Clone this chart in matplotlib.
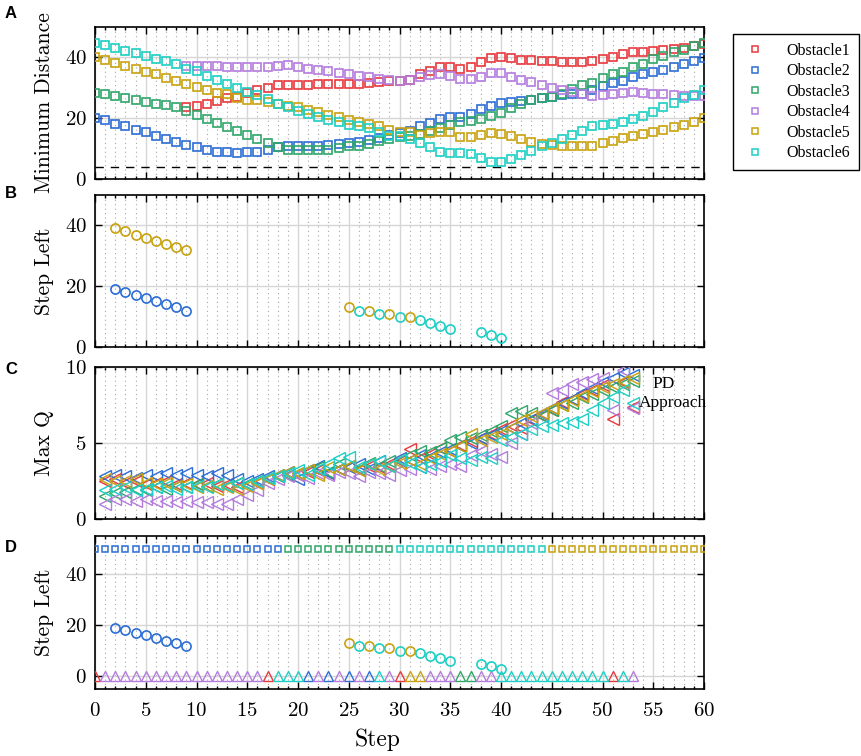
import numpy as np
import matplotlib
matplotlib.use("Agg")
import matplotlib.pyplot as plt
from matplotlib.ticker import MultipleLocator, FixedLocator
from matplotlib.lines import Line2D

plt.rcParams['font.family'] = ['cmr10', 'DejaVu Serif']
plt.rcParams['axes.formatter.use_mathtext'] = True
plt.rcParams['mathtext.fontset'] = 'cm'

# ---------------- data ----------------
obstacle_names = ['Obstacle1', 'Obstacle2', 'Obstacle3', 'Obstacle4', 'Obstacle5', 'Obstacle6']
obstacle_colors = ['#E8383D', '#2C6ED5', '#2FA66A', '#B47CDD', '#C9A20F', '#1DCFC4']

# Panel A: minimum distance per step
steps_all = list(range(0, 61))
steps_from9 = list(range(9, 61))
dist_obs1 = [23.8, 24.1, 24.8, 25.6, 26.7, 27.0, 28.3, 29.2, 30.0, 31.0,
             31.0, 31.0, 31.0, 31.1, 31.1, 31.3, 31.3, 31.3, 31.5, 31.9,
             32.1, 32.4, 32.6, 34.4, 35.4, 36.7, 37.0, 36.2, 37.0, 38.4,
             39.7, 40.0, 39.7, 39.2, 39.1, 38.9, 38.7, 38.6, 38.6, 38.6,
             38.7, 39.5, 40.2, 41.1, 41.8, 41.9, 42.2, 42.4, 42.7, 43.2,
             43.8, 44.5]
dist_obs2 = [20.0, 19.4, 18.1, 17.3, 16.2, 15.3, 14.3, 13.3, 12.2, 11.3,
             10.6, 9.7, 9.0, 8.8, 8.6, 8.8, 9.0, 9.7, 10.6, 10.8,
             10.8, 10.8, 11.0, 11.3, 11.6, 11.9, 12.2, 12.7, 13.5, 14.6,
             15.1, 15.7, 17.3, 18.4, 19.8, 20.5, 20.5, 21.4, 22.9, 24.0,
             25.1, 25.2, 25.6, 25.9, 26.5, 27.0, 27.6, 27.9, 28.1, 29.4,
             30.5, 31.6, 32.4, 33.5, 34.4, 35.1, 35.9, 37.0, 37.8, 38.9,
             39.8]
dist_obs3 = [28.4, 27.9, 27.2, 26.5, 25.9, 25.4, 24.8, 24.2, 23.8, 22.4,
             21.1, 19.8, 18.4, 17.0, 15.7, 14.6, 13.1, 11.9, 10.5, 9.7,
             9.4, 9.4, 9.5, 9.7, 10.2, 10.8, 11.0, 11.5, 12.4, 13.1,
             13.8, 14.2, 14.9, 15.7, 16.9, 17.6, 18.6, 19.2, 19.9, 20.7,
             21.8, 23.2, 24.6, 26.1, 26.8, 27.1, 27.9, 29.6, 31.0, 31.7,
             33.3, 34.4, 35.3, 36.8, 37.8, 39.5, 40.6, 41.9, 42.5, 43.6,
             44.7]
dist_obs4 = [37.1, 37.1, 37.1, 37.1, 37.0, 36.7, 36.7, 36.8, 37.0, 37.1,
             37.5, 36.7, 36.2, 35.7, 35.4, 34.8, 34.4, 33.8, 33.5, 33.0,
             32.7, 32.4, 32.6, 33.5, 34.2, 34.4, 34.0, 33.0, 33.0, 33.7,
             34.8, 34.8, 33.7, 32.7, 31.9, 31.0, 30.0, 29.4, 28.6, 28.1,
             27.2, 27.6, 27.9, 28.3, 28.6, 28.3, 28.1, 27.8, 27.6, 27.3,
             27.3, 27.2]
dist_obs5 = [40.0, 39.2, 38.1, 37.3, 36.2, 35.3, 34.4, 33.3, 32.2, 31.3,
             30.3, 29.4, 28.4, 27.8, 26.8, 26.1, 25.9, 25.4, 24.8, 24.0,
             23.6, 22.7, 21.9, 21.1, 20.3, 19.4, 18.9, 18.1, 17.3, 16.2,
             15.3, 15.3, 14.6, 15.1, 15.3, 15.4, 13.8, 13.8, 14.6, 15.1,
             14.9, 14.0, 13.0, 12.1, 11.5, 11.1, 10.8, 10.8, 10.8, 10.8,
             11.7, 12.4, 13.5, 14.3, 14.8, 15.3, 16.2, 17.0, 17.8, 18.9,
             20.0]
dist_obs6 = [44.7, 44.0, 43.0, 42.2, 41.3, 40.4, 39.6, 38.7, 37.8, 36.2,
             35.4, 33.9, 32.6, 31.3, 29.9, 28.6, 27.6, 26.2, 24.6, 23.6,
             22.5, 21.4, 20.5, 19.4, 18.6, 17.7, 17.5, 16.7, 15.3, 14.2,
             14.0, 13.1, 11.9, 10.5, 9.0, 8.6, 8.6, 8.1, 6.8, 5.6,
             5.6, 6.5, 7.9, 9.2, 10.8, 11.7, 13.2, 14.6, 15.7, 17.3,
             17.6, 18.2, 18.9, 19.6, 20.8, 22.2, 23.8, 25.1, 26.5, 27.6,
             29.2]
safe_distance = 4

# Panel B / D: step left (circles)
left_obs2_steps = [2, 3, 4, 5, 6, 7, 8, 9]
left_obs2_values = [19, 18, 17, 16, 15, 14, 13, 12]
left_obs5_early_steps = [2, 3, 4, 5, 6, 7, 8, 9]
left_obs5_early_values = [39, 38, 37, 36, 35, 34, 33, 32]
left_obs5_steps = [25, 27, 29, 31]
left_obs5_values = [13, 12, 11, 10]
left_obs6_steps = [26, 28, 30, 32, 33, 34, 35, 38, 39, 40]
left_obs6_values = [12, 11, 10, 9, 8, 7, 6, 5, 4, 3]

# Panel C: max Q (steps 1..53)
q_steps = list(range(1, 54))
q_obs1 = [2.5, 2.6, 2.4, 2.5, 2.3, 2.4, 2.5, 2.3, 2.4, 2.3,
          2.4, 2.2, 2.3, 2.1, 2.3, 2.4, 2.6, 2.8, 3.0, 2.9,
          3.1, 3.2, 3.0, 3.3, 3.4, 3.2, 3.5, 3.4, 3.6, 3.8,
          4.6, 4.0, 4.3, 4.7, 4.5, 4.9, 5.1, 5.3, 5.6, 5.9,
          6.2, 6.0, 6.5, 6.8, 7.2, 7.7, 7.9, 8.2, 8.5, 8.8,
          6.6, 9.0, 7.4]
q_obs2 = [2.8, 2.9, 2.8, 2.7, 2.9, 2.8, 3.0, 2.9, 3.0, 2.9,
          2.8, 3.0, 2.9, 2.6, 2.5, 2.6, 2.8, 2.9, 3.1, 2.6,
          3.2, 3.5, 3.0, 3.3, 3.4, 3.6, 3.3, 3.8, 3.5, 4.0,
          3.9, 4.2, 4.1, 4.4, 4.6, 4.8, 5.0, 5.3, 5.5, 5.8,
          6.0, 6.3, 6.6, 6.9, 7.3, 7.6, 7.9, 8.3, 8.6, 9.0,
          9.3, 9.6, 9.5]
q_obs3 = [1.5, 1.7, 1.8, 2.0, 1.9, 2.1, 2.0, 2.2, 2.1, 2.3,
          2.2, 2.3, 2.2, 2.4, 2.3, 2.5, 2.7, 2.8, 2.9, 3.0,
          3.2, 3.4, 3.1, 3.6, 3.5, 3.3, 3.7, 3.5, 3.8, 3.9,
          4.2, 4.5, 4.4, 4.7, 5.2, 5.4, 5.3, 5.5, 5.8, 6.1,
          7.0, 7.1, 7.0, 6.8, 7.2, 7.5, 7.6, 8.0, 8.2, 8.5,
          8.7, 8.9, 9.1]
q_obs4 = [1.0, 1.3, 1.3, 1.2, 1.3, 1.2, 1.2, 1.1, 1.2, 1.1,
          1.1, 1.0, 1.0, 1.3, 1.6, 1.9, 2.4, 2.6, 2.8, 2.9,
          2.7, 3.0, 2.9, 3.1, 3.0, 2.8, 3.1, 3.0, 2.9, 3.2,
          3.3, 3.4, 3.3, 3.5, 3.6, 3.5, 4.2, 4.5, 4.3, 4.1,
          5.0, 5.6, 6.3, 7.0, 8.3, 8.5, 8.9, 9.0, 9.2, 9.3,
          7.2, 9.8, 7.3]
q_obs5 = [2.6, 2.5, 2.5, 2.6, 2.4, 2.3, 2.4, 2.2, 2.3, 2.1,
          2.2, 2.0, 2.1, 2.0, 2.2, 2.4, 2.6, 2.9, 3.1, 3.0,
          3.2, 2.9, 3.4, 3.3, 3.5, 3.2, 3.6, 3.3, 3.5, 3.7,
          3.9, 3.6, 4.0, 4.3, 4.5, 4.8, 5.6, 5.2, 5.4, 5.6,
          6.0, 6.5, 6.8, 7.0, 7.3, 7.5, 7.8, 8.1, 8.4, 8.7,
          8.9, 9.1, 9.3]
q_obs6 = [1.9, 2.0, 2.1, 1.9, 2.0, 2.1, 2.2, 2.0, 2.1, 2.2,
          2.1, 2.3, 2.2, 2.4, 2.3, 2.5, 2.7, 2.8, 3.0, 3.2,
          2.9, 3.3, 3.6, 4.0, 4.1, 3.4, 3.6, 3.8, 3.5, 3.9,
          3.7, 3.4, 3.6, 3.8, 4.2, 4.0, 3.9, 4.1, 4.0, 5.2,
          5.4, 5.6, 5.9, 6.1, 6.2, 6.3, 6.4, 6.6, 7.2, 7.6,
          8.0, 8.5, 7.6]

# Panel D: target obstacle (squares at 50) and approach obstacle (triangles at 0)
target_value = 50
target_obstacle = [2] * 19 + [3] * 11 + [6] * 15 + [5] * 16          # steps 0..60
approach_value = 0
approach_obstacle = ([1] + [4] * 16 + [1] + [6, 6, 6] + [2, 4, 2, 4, 2, 4, 2] +
                     [6, 4, 1, 5, 5, 4, 4, 4, 3, 3, 4, 4] + [6] * 11 + [1, 6, 4])  # steps 0..53

# ---------------- figure ----------------
W, H = 861, 756
fig = plt.figure(figsize=(W / 100, H / 100), dpi=100)

def rect(top, bottom, left=95, right=704):
    return [left / W, 1 - bottom / H, (right - left) / W, (bottom - top) / H]

ax_a = fig.add_axes(rect(27, 179))
ax_b = fig.add_axes(rect(195, 347))
ax_c = fig.add_axes(rect(367, 519))
ax_d = fig.add_axes(rect(536, 689))

def style(ax, ylim, yticks, ylabel, show_x=False):
    ax.set_xlim(0, 60)
    ax.set_ylim(*ylim)
    ax.xaxis.set_major_locator(MultipleLocator(5))
    ax.xaxis.set_minor_locator(MultipleLocator(1))
    ax.yaxis.set_major_locator(FixedLocator(yticks))
    ax.set_axisbelow(True)
    ax.grid(True, which='major', color='#d6d6d6', lw=1.0, ls='-')
    ax.xaxis.grid(True, which='minor', color='#a8a8a8', lw=0.8, ls=(0, (1, 3)))
    ax.tick_params(which='both', direction='in', top=True, right=True,
                   labelsize=15, width=1.0, colors='black')
    ax.tick_params(which='major', length=5)
    ax.tick_params(which='minor', length=2.5)
    ax.tick_params(axis='y', pad=6)
    ax.tick_params(axis='x', pad=9)
    if not show_x:
        ax.tick_params(labelbottom=False)
    for s in ax.spines.values():
        s.set_linewidth(1.2)
    ax.set_ylabel(ylabel, fontsize=15.5)
    ax.yaxis.label.set_va('center')
    ax.yaxis.set_label_coords(-51 / 609, 0.5)

dist_series = [(steps_from9, dist_obs1), (steps_all, dist_obs2), (steps_all, dist_obs3),
               (steps_from9, dist_obs4), (steps_all, dist_obs5), (steps_all, dist_obs6)]

# Panel A
ax_a.axhline(safe_distance, color='black', lw=1.0, ls=(0, (6, 5)), zorder=1)
for (xs, ys), c, name in zip(dist_series, obstacle_colors, obstacle_names):
    ax_a.plot(xs, ys, ls='none', marker='s', ms=5.2, mfc='none', mec=c, mew=1.2,
              label=name, zorder=3)
style(ax_a, (0, 50), [0, 20, 40], 'Minimum Distance')

# Panel B
circ = dict(ls='none', marker='o', ms=6.6, mfc='none', mew=1.2, zorder=3)
ax_b.plot(left_obs5_early_steps, left_obs5_early_values, mec=obstacle_colors[4], **circ)
ax_b.plot(left_obs2_steps, left_obs2_values, mec=obstacle_colors[1], **circ)
ax_b.plot(left_obs5_steps, left_obs5_values, mec=obstacle_colors[4], **circ)
ax_b.plot(left_obs6_steps, left_obs6_values, mec=obstacle_colors[5], **circ)
style(ax_b, (0, 50), [0, 20, 40], 'Step Left')

# Panel C
q_series = [q_obs1, q_obs2, q_obs3, q_obs4, q_obs5, q_obs6]
for ys, c in zip(q_series, obstacle_colors):
    ax_c.plot(q_steps, ys, ls='none', marker='<', ms=8, mfc='none', mec=c, mew=1.0,
              zorder=3)
style(ax_c, (0, 10), [0, 5, 10], 'Max Q')
ax_c.text(56, 8.9, 'PD', ha='center', va='center', family='Liberation Serif',
          fontsize=12.5, zorder=5)
ax_c.text(53.6, 7.6, 'Approach', ha='left', va='center', family='Liberation Serif',
          fontsize=12.5, zorder=5)

# Panel D
for k, c in enumerate(obstacle_colors, start=1):
    xs = [s for s, o in enumerate(target_obstacle) if o == k]
    if xs:
        ax_d.plot(xs, [target_value] * len(xs), ls='none', marker='s', ms=4.8,
                  mfc='none', mec=c, mew=1.1, zorder=3)
    xs = [s for s, o in enumerate(approach_obstacle) if o == k]
    if xs:
        ax_d.plot(xs, [approach_value] * len(xs), ls='none', marker='^', ms=7.5,
                  mfc='none', mec=c, mew=1.0, zorder=3)
ax_d.plot(left_obs2_steps, left_obs2_values, mec=obstacle_colors[1], **circ)
ax_d.plot(left_obs5_steps, left_obs5_values, mec=obstacle_colors[4], **circ)
ax_d.plot(left_obs6_steps, left_obs6_values, mec=obstacle_colors[5], **circ)
style(ax_d, (-5, 55), [0, 20, 40], 'Step Left', show_x=True)
ax_d.set_xlabel('Step', fontsize=17)
ax_d.xaxis.set_label_coords(283 / 609, -51 / 153)
ax_d.xaxis.label.set_va('center')

# Legend
leg_handles = [Line2D([], [], ls='none', marker='s', ms=4.5, mfc='none', mec=c, mew=1.1)
               for c in obstacle_colors]
leg = fig.legend(leg_handles, obstacle_names, loc='upper left',
                 bbox_to_anchor=(733 / W, 1 - 34 / H),
                 prop={'family': 'Liberation Serif', 'size': 11.5},
                 frameon=True, fancybox=False, framealpha=1, edgecolor='black',
                 handlelength=1.6, handletextpad=1.2, labelspacing=0.28,
                 borderpad=0.55, borderaxespad=0)
leg.get_frame().set_linewidth(1.0)

# Panel letters
for lab, yc in zip('ABCD', [14, 194, 370, 548]):
    fig.text(5 / W, 1 - yc / H, lab, ha='left', va='center',
             family='Liberation Sans', weight='bold', fontsize=12)

fig.savefig('out.png', dpi=100)
